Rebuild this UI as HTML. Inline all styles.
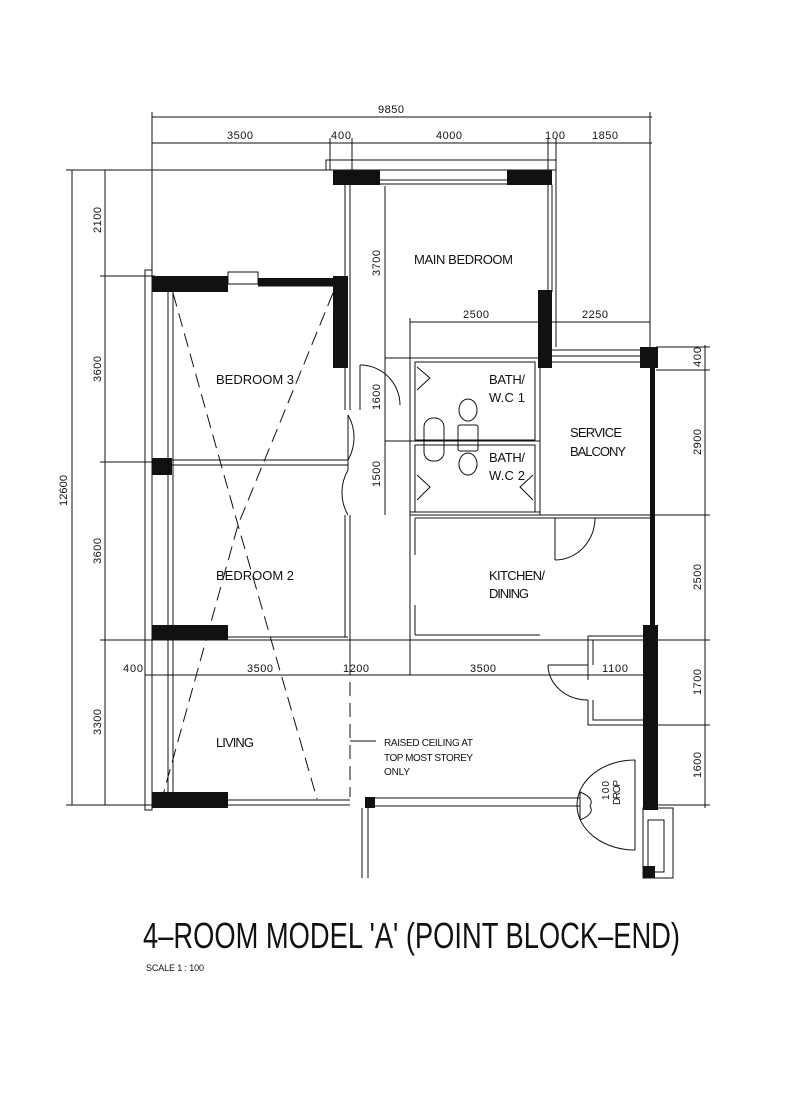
<!DOCTYPE html>
<html><head><meta charset="utf-8"><style>
html,body{margin:0;padding:0;background:#fff;}
svg{display:block;}
text{font-family:"Liberation Sans",sans-serif;fill:#111;}
</style></head><body>
<svg width="800" height="1094" viewBox="0 0 800 1094" xmlns="http://www.w3.org/2000/svg">
<g stroke="#111" stroke-width="1" fill="none">
<line x1="152" y1="117" x2="652" y2="117"/>
<line x1="152" y1="112" x2="152" y2="280"/>
<line x1="152" y1="143" x2="652" y2="143"/>
<line x1="330" y1="138" x2="330" y2="170"/>
<line x1="352" y1="138" x2="352" y2="172"/>
<line x1="548" y1="138" x2="548" y2="170"/>
<line x1="556" y1="138" x2="556" y2="170"/>
<line x1="650" y1="112" x2="650" y2="350"/>
<line x1="72" y1="170" x2="72" y2="805"/>
<line x1="105" y1="170" x2="105" y2="805"/>
<line x1="66" y1="170" x2="335" y2="170"/>
<line x1="100" y1="276" x2="155" y2="276"/>
<line x1="100" y1="462" x2="152" y2="462"/>
<line x1="100" y1="640" x2="652" y2="640"/>
<line x1="66" y1="805" x2="152" y2="805"/>
<line x1="705" y1="345" x2="705" y2="808"/>
<line x1="656" y1="347" x2="710" y2="347"/>
<line x1="656" y1="370" x2="710" y2="370"/>
<line x1="410" y1="515" x2="710" y2="515"/>
<line x1="656" y1="640" x2="710" y2="640"/>
<line x1="645" y1="725" x2="710" y2="725"/>
<line x1="656" y1="805" x2="710" y2="805"/>
<line x1="410" y1="322" x2="650" y2="322"/>
<line x1="410" y1="318" x2="410" y2="620"/>
<line x1="385" y1="186" x2="385" y2="515"/>
<line x1="385" y1="358" x2="540" y2="358"/>
<line x1="385" y1="441" x2="540" y2="441"/>
<line x1="145" y1="675" x2="645" y2="675"/>
<line x1="350" y1="640" x2="350" y2="675"/>
<line x1="410" y1="640" x2="410" y2="675"/>
<line x1="588" y1="640" x2="588" y2="680"/>
<rect x="326" y="160" width="230" height="10"/>
<line x1="380" y1="180" x2="507" y2="180"/>
<line x1="380" y1="184" x2="507" y2="184"/>
<line x1="345" y1="185" x2="345" y2="410"/>
<line x1="350" y1="185" x2="350" y2="410"/>
<line x1="548" y1="185" x2="548" y2="292"/>
<line x1="552" y1="185" x2="552" y2="292"/>
<line x1="556" y1="170" x2="556" y2="347" />
<line x1="552" y1="350" x2="650" y2="350"/>
<line x1="552" y1="356" x2="640" y2="356"/>
<line x1="552" y1="362" x2="640" y2="362"/>
<rect x="145" y="270" width="7" height="540"/>
<line x1="168" y1="292" x2="168" y2="797"/>
<line x1="173" y1="292" x2="173" y2="797"/>
<rect x="228" y="272" width="30" height="12"/>
<line x1="258" y1="286" x2="335" y2="286"/>
<line x1="172" y1="460" x2="348" y2="460"/>
<line x1="172" y1="465" x2="348" y2="465"/>
<line x1="348" y1="455" x2="348" y2="470"/>
<line x1="228" y1="637" x2="348" y2="637"/>
<line x1="345" y1="515" x2="345" y2="637"/>
<line x1="350" y1="515" x2="350" y2="640"/>
<line x1="228" y1="800" x2="350" y2="800"/>
<line x1="228" y1="805" x2="350" y2="805"/>
<line x1="375" y1="798" x2="580" y2="798"/>
<line x1="375" y1="806" x2="580" y2="806"/>
<line x1="362" y1="808" x2="362" y2="878"/>
<line x1="368" y1="808" x2="368" y2="878"/>
<path d="M348 415 A45 45 0 0 1 348 460"/>
<path d="M348 415 L 348 460"/>
<path d="M348 470 A45 45 0 0 0 348 515"/>
<path d="M360 365 A40 40 0 0 1 400 405"/>
<line x1="360" y1="365" x2="360" y2="410"/>
<g stroke-dasharray="14,7">
<polyline points="173,293 238,525 317,799"/>
<polyline points="333,293 238,525 163,795"/>
<line x1="350" y1="640" x2="350" y2="797"/>
</g>
<line x1="350" y1="741" x2="376" y2="741"/>
<rect x="415" y="362" width="120" height="78"/>
<rect x="415" y="445" width="120" height="67"/>
<line x1="410" y1="512" x2="540" y2="512"/>
<line x1="540" y1="362" x2="540" y2="515"/>
<path d="M417 367 L430 378 L417 390"/>
<path d="M417 475 L430 487 L417 500"/>
<path d="M533 475 L520 487 L533 500"/>
<ellipse cx="468" cy="410" rx="9" ry="11"/>
<ellipse cx="468" cy="464" rx="9" ry="11"/>
<rect x="458" y="425" width="20" height="26" rx="2"/>
<rect x="424" y="418" width="20" height="43" rx="9"/>
<line x1="415" y1="518" x2="650" y2="518"/>
<line x1="410" y1="515" x2="410" y2="555"/>
<line x1="415" y1="518" x2="415" y2="555"/>
<line x1="410" y1="605" x2="410" y2="640"/>
<line x1="415" y1="605" x2="415" y2="635"/>
<line x1="415" y1="635" x2="540" y2="635"/>
<line x1="555" y1="518" x2="555" y2="560"/>
<path d="M595 518 A40 42 0 0 1 555 560"/>
<path d="M645 636 L588 636 L588 665 L548 665"/>
<path d="M593 640 L593 665"/>
<path d="M588 700 L588 725 L645 725"/>
<path d="M593 700 L593 720 L645 720"/>
<path d="M548 665 A40 35 0 0 0 588 700"/>
<path d="M635 760 A58 45 0 0 0 635 850"/>
<line x1="635" y1="760" x2="635" y2="850"/>
<path d="M580 790 L580 820"/>
<path d="M580 792 Q 595 798 590 806 Q 595 814 580 820"/>
<rect x="643" y="808" width="30" height="70"/>
<rect x="648" y="820" width="16" height="52"/>
</g>
<g fill="#111">
<rect x="333" y="170" width="47" height="15"/>
<rect x="507" y="170" width="45" height="15"/>
<rect x="538" y="290" width="14" height="78"/>
<rect x="640" y="347" width="18" height="21"/>
<rect x="650" y="368" width="5" height="257"/>
<rect x="643" y="625" width="15" height="185"/>
<rect x="152" y="276" width="76" height="16"/>
<rect x="258" y="278" width="77" height="8"/>
<rect x="333" y="276" width="15" height="92"/>
<rect x="152" y="458" width="20" height="17"/>
<rect x="152" y="625" width="76" height="15"/>
<rect x="152" y="792" width="76" height="16"/>
<rect x="365" y="797" width="10" height="11"/>
<rect x="643" y="866" width="12" height="12"/>
</g>
<g font-size="11">
<text x="378" y="113" textLength="26">9850</text>
<text x="227" y="139" textLength="26">3500</text>
<text x="331" y="139" textLength="20">400</text>
<text x="436" y="139" textLength="26">4000</text>
<text x="545" y="139" textLength="20">100</text>
<text x="592" y="139" textLength="26">1850</text>
<text x="463" y="318" textLength="26">2500</text>
<text x="582" y="318" textLength="26">2250</text>
<text x="123" y="672" textLength="20">400</text>
<text x="247" y="672" textLength="26">3500</text>
<text x="343" y="672" textLength="26">1200</text>
<text x="470" y="672" textLength="26">3500</text>
<text x="602" y="672" textLength="26">1100</text>
<text transform="translate(67,506) rotate(-90)" textLength="31">12600</text>
<text transform="translate(101,233) rotate(-90)" textLength="26">2100</text>
<text transform="translate(101,382) rotate(-90)" textLength="26">3600</text>
<text transform="translate(101,564) rotate(-90)" textLength="26">3600</text>
<text transform="translate(101,735) rotate(-90)" textLength="26">3300</text>
<text transform="translate(380,276) rotate(-90)" textLength="26">3700</text>
<text transform="translate(380,410) rotate(-90)" textLength="26">1600</text>
<text transform="translate(380,487) rotate(-90)" textLength="26">1500</text>
<text transform="translate(701,367) rotate(-90)" textLength="20">400</text>
<text transform="translate(701,455) rotate(-90)" textLength="26">2900</text>
<text transform="translate(701,590) rotate(-90)" textLength="26">2500</text>
<text transform="translate(701,695) rotate(-90)" textLength="26">1700</text>
<text transform="translate(701,778) rotate(-90)" textLength="26">1600</text>
</g>
<g font-size="13">
<text x="414" y="264" textLength="99">MAIN  BEDROOM</text>
<text x="216" y="384" textLength="78">BEDROOM 3</text>
<text x="216" y="580" textLength="78">BEDROOM 2</text>
<text x="216" y="747" textLength="38">LIVING</text>
<text x="489" y="580" textLength="56">KITCHEN/</text>
<text x="489" y="598" textLength="40">DINING</text>
<text x="489" y="384" textLength="36">BATH/</text>
<text x="489" y="402" textLength="36">W.C 1</text>
<text x="489" y="462" textLength="36">BATH/</text>
<text x="489" y="480" textLength="36">W.C 2</text>
<text x="570" y="437" textLength="52">SERVICE</text>
<text x="570" y="456" textLength="56">BALCONY</text>
</g>
<g font-size="10">
<text x="384" y="746" textLength="89">RAISED CEILING AT</text>
<text x="384" y="761" textLength="89">TOP MOST STOREY</text>
<text x="384" y="775" textLength="26">ONLY</text>
<text transform="translate(609,800) rotate(-90)" textLength="19">100</text>
<text transform="translate(620,805) rotate(-90)" textLength="25">DROP</text>
</g>
<text x="143" y="948" font-size="36" textLength="537" lengthAdjust="spacingAndGlyphs">4–ROOM  MODEL  'A'  (POINT  BLOCK–END)</text>
<text x="146" y="971" font-size="9" textLength="58">SCALE 1 : 100</text>
</svg>
</body></html>
